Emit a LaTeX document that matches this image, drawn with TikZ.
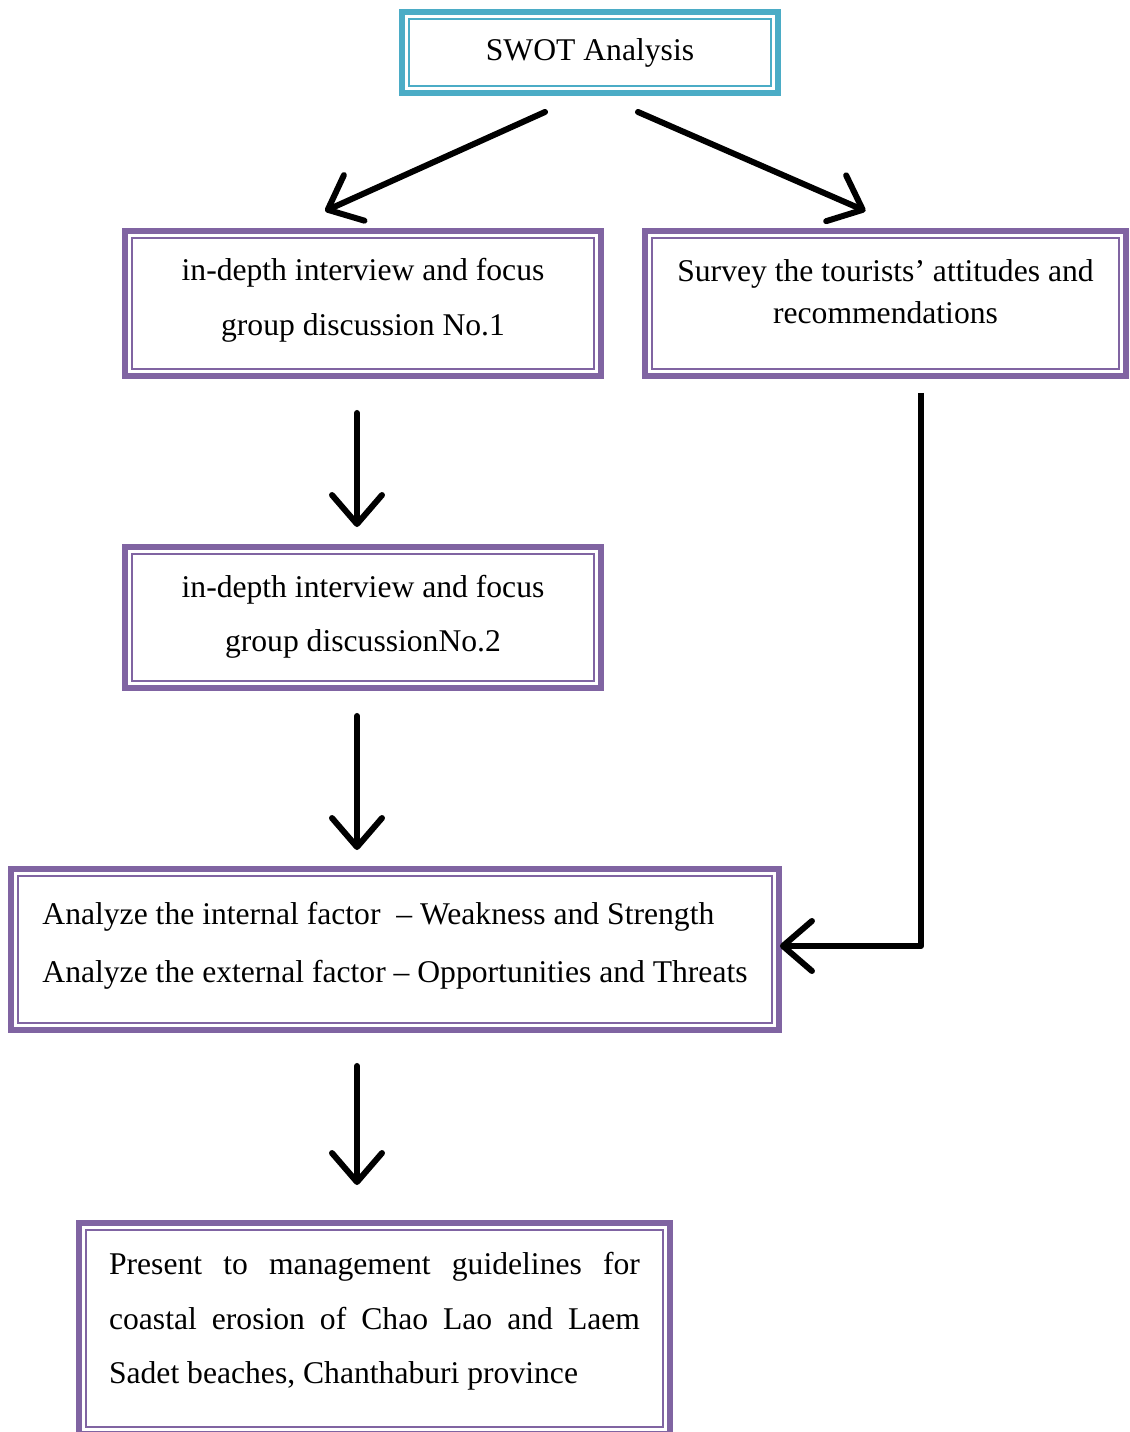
\documentclass[tikz,border=0pt]{standalone}
\usepackage{fontspec}
\setmainfont{Liberation Serif}
\usetikzlibrary{arrows.meta}
\usetikzlibrary{positioning}
\definecolor{swot-teal}{RGB}{75, 172, 198}
\definecolor{box-purple}{RGB}{128, 100, 162}

\tikzset{
  framebox/.style={draw=#1, line width=0.12cm, fill=white, inner sep=0pt,
    font=\fontsize{18}{31}\selectfont,
    path picture={\draw[#1, line width=0.04cm]
      ([shift={(0.14cm,-0.14cm)}]path picture bounding box.north west) rectangle
      ([shift={(-0.14cm,0.14cm)}]path picture bounding box.south east);}},
  flowarrow/.style={line width=0.12cm, line cap=round, line join=round,
    -{Straight Barb[length=0.58cm, width=1.0cm, line cap=round, line join=round]}}
}

\begin{document}
\begin{tikzpicture}[x=0.02cm, y=-0.02cm]
  \useasboundingbox (0, 0) rectangle (1129, 1432);
  \begin{scope}
    \clip (0, 0) rectangle (1129, 1432);

    \node[framebox=swot-teal, minimum width=7.52cm, minimum height=1.62cm] (swot) at (590, 52.5) {SWOT Analysis};
    \node[framebox=box-purple, minimum width=9.52cm, minimum height=2.9cm, align=center, text depth=0.26cm] (interview1) at (363, 303.5)
      {in-depth interview and focus\\group discussion No.1};
    \node[framebox=box-purple, minimum width=9.62cm, minimum height=2.9cm, align=center, text depth=0.48cm,
      font=\fontsize{18}{24}\selectfont] (survey) at (885.5, 303.5)
      {Survey the tourists’ attitudes and\\recommendations};
    \node[framebox=box-purple, minimum width=9.52cm, minimum height=2.82cm, align=center, text depth=0.16cm] (interview2) at (363, 617.5)
      {in-depth interview and focus\\group discussionNo.2};
    \node[framebox=box-purple, minimum width=15.36cm, minimum height=3.22cm, align=left, text depth=0.3cm,
      font=\fontsize{18}{33}\selectfont] (analyze) at (395, 949.5)
      {Analyze the internal factor \ – Weakness and Strength\\Analyze the external factor – Opportunities and Threats};
    \node[framebox=box-purple, minimum width=11.82cm, minimum height=4.22cm, align=justify, text width=10.62cm, text depth=2.6cm] (present) at (374.5, 1328.5)
      {Present to management guidelines for\linebreak coastal erosion of Chao Lao and Laem\linebreak Sadet beaches, Chanthaburi province};

    \draw[flowarrow] ([shift={(-45, 16)}]swot.south) -- ([shift={(-38, -17)}]interview1.north);
    \draw[flowarrow] ([shift={(48, 16)}]swot.south) -- ([shift={(-20, -17)}]survey.north);
    \draw[flowarrow] ([shift={(-6, 34)}]interview1.south) -- ([shift={(-6, -17)}]interview2.north);
    \draw[flowarrow] ([shift={(-6, 25)}]interview2.south) -- ([shift={(-38, -16)}]analyze.north);
    \draw[flowarrow] ([shift={(-38, 33)}]analyze.south) -- ([shift={(-17.5, -35)}]present.north);
    \draw[flowarrow, line cap=butt] ([shift={(35.5, 14)}]survey.south) |- ([shift={(-2, -3.5)}]analyze.east);
  \end{scope}
\end{tikzpicture}
\end{document}
